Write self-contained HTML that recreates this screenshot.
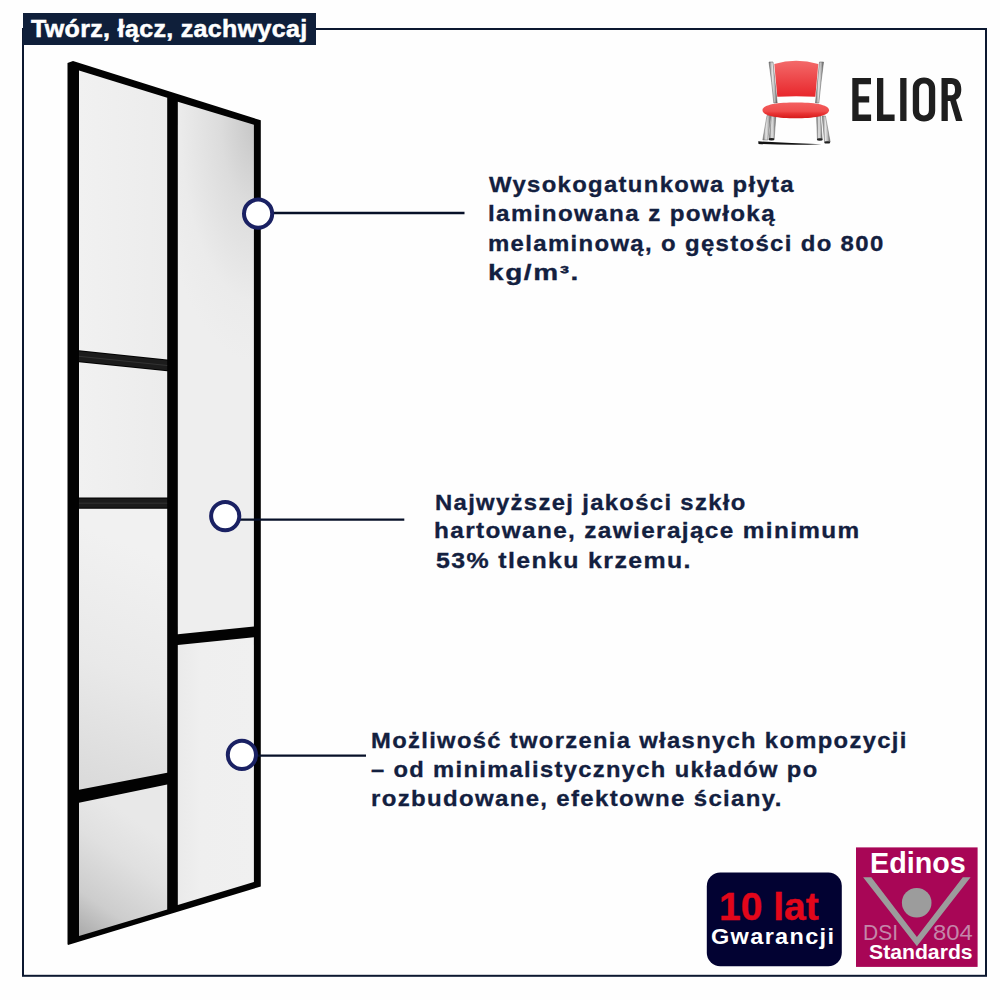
<!DOCTYPE html>
<html><head><meta charset="utf-8">
<style>
html,body{margin:0;padding:0;background:#fefefe;}
body{width:1000px;height:1000px;position:relative;overflow:hidden;font-family:"Liberation Sans",sans-serif;}
svg{position:absolute;left:0;top:0;}
.t{position:absolute;white-space:pre;font-weight:bold;color:#13203f;font-size:21.5px;line-height:21.5px;letter-spacing:1.2px;transform-origin:0 0;-webkit-text-stroke:0.3px #13203f;}
.hd{position:absolute;left:22.8px;top:13.2px;width:293px;height:31.8px;background:#0f1f3a;}
.ht{position:absolute;white-space:pre;font-weight:bold;color:#fff;font-size:23px;line-height:23px;letter-spacing:0.3px;transform-origin:0 0;-webkit-text-stroke:0.5px #fff;}
.b{position:absolute;white-space:pre;font-weight:bold;transform-origin:0 0;}
</style></head>
<body>
<svg width="1000" height="1000" viewBox="0 0 1000 1000">
  <defs>
    <radialGradient id="gA" gradientUnits="userSpaceOnUse" cx="256" cy="122" r="240" gradientTransform="translate(256,122) scale(0.42,1) translate(-256,-122)">
      <stop offset="0" stop-color="#c6c6c6"/><stop offset="0.35" stop-color="#dcdcdc"/><stop offset="0.75" stop-color="#ebebeb"/><stop offset="1" stop-color="#eeeeee"/>
    </radialGradient>
    <linearGradient id="gB" gradientUnits="userSpaceOnUse" x1="78" y1="936" x2="150" y2="830">
      <stop offset="0" stop-color="#a9a9a9"/><stop offset="0.3" stop-color="#cdcdcd"/><stop offset="0.7" stop-color="#e0e0e0"/><stop offset="1" stop-color="#e8e8e8"/>
    </linearGradient>
    <linearGradient id="gC" x1="0" y1="0" x2="1" y2="0">
      <stop offset="0" stop-color="#f1f1f1"/><stop offset="1" stop-color="#ececec"/>
    </linearGradient>
    <linearGradient id="gD" gradientUnits="userSpaceOnUse" x1="80" y1="785" x2="167" y2="560">
      <stop offset="0" stop-color="#dadada"/><stop offset="0.5" stop-color="#e9e9e9"/><stop offset="1" stop-color="#f1f1f1"/>
    </linearGradient>
    <linearGradient id="gE" x1="0" y1="0" x2="1" y2="0">
      <stop offset="0" stop-color="#eaeaea"/><stop offset="0.3" stop-color="#efefef"/><stop offset="1" stop-color="#f0f0f0"/>
    </linearGradient>
    <linearGradient id="red1" x1="0" y1="0" x2="0" y2="1">
      <stop offset="0" stop-color="#f36a6a"/><stop offset="1" stop-color="#e8262b"/>
    </linearGradient>
    <linearGradient id="red2" x1="0" y1="0" x2="0" y2="1">
      <stop offset="0" stop-color="#f36060"/><stop offset="0.55" stop-color="#f04c4c"/><stop offset="0.7" stop-color="#e83434"/><stop offset="1" stop-color="#d51a1a"/>
    </linearGradient>
    <linearGradient id="steel" x1="0" y1="0" x2="1" y2="0">
      <stop offset="0" stop-color="#6e6e6e"/><stop offset="0.4" stop-color="#e6e6e6"/><stop offset="0.7" stop-color="#b8b8b8"/><stop offset="1" stop-color="#5a5a5a"/>
    </linearGradient>
  </defs>
  <!-- frame border -->
  <rect x="23" y="29" width="963" height="946.8" fill="none" stroke="#0c1830" stroke-width="2"/>
  <!-- door outer -->
  <polygon points="67.5,63 73,61 260.8,120.3 260.8,886.5 68,945 67.5,944" fill="#020202"/>
  <!-- panes -->
  <polygon points="79,70.5 167.2,97.8 167.2,359.6 79,350.3" fill="url(#gC)"/>
  <polygon points="79,362.2 167.2,371.3 167.2,497.6 79,497.6" fill="url(#gC)"/>
  <polygon points="79,508.7 167.2,508.7 167.2,772.8 79,789.7" fill="url(#gD)"/>
  <polygon points="79,802.7 167.2,784.5 167.2,909.5 79,936" fill="url(#gB)"/>
  <polygon points="177.8,101.7 253.9,124.8 253.9,626.4 177.8,634.2" fill="url(#gA)"/>
  <polygon points="177.8,645 253.9,637.2 253.9,882 177.8,905" fill="url(#gE)"/>
  <polygon points="79,351.3 167.2,360.6 167.2,370.3 79,361.2" fill="#1c1c1c"/>
  <line x1="79" y1="356.3" x2="167.2" y2="365.5" stroke="#383838" stroke-width="0.8"/>
  <rect x="79" y="498.6" width="88.2" height="9.1" fill="#1c1c1c"/>
  <line x1="79" y1="503.2" x2="167.2" y2="503.2" stroke="#383838" stroke-width="0.8"/>
  <!-- pointer lines -->
  <g stroke="#071028" stroke-width="2.3">
    <line x1="272" y1="213" x2="464.5" y2="213"/>
    <line x1="239" y1="519.7" x2="404.3" y2="519.7"/>
    <line x1="256" y1="755.6" x2="366" y2="755.6"/>
  </g>
  <g fill="#fff" stroke="#1a2163" stroke-width="4">
    <circle cx="258.1" cy="213.7" r="14.1"/>
    <circle cx="225.2" cy="516.1" r="14.1"/>
    <circle cx="241.9" cy="754.9" r="14.1"/>
  </g>
  <!-- chair -->
  <g>
    <path d="M769,62 Q772,82 773.8,103 L777.2,103 Q775,82 773,62 Z" fill="url(#steel)" stroke="#555" stroke-width="0.5"/>
    <path d="M819.5,62 Q817.5,82 815.5,103 L818.8,103 Q820.8,82 823.5,62 Z" fill="url(#steel)" stroke="#555" stroke-width="0.5"/>
    <path d="M774.3,64 Q796,57.5 818.3,64 L815.3,96.8 Q796,95.8 777.3,96.8 Z" fill="url(#red1)"/>
    <path d="M767,115.5 L770.8,115.5 L767.8,140 L762.8,140 Z" fill="url(#steel)" stroke="#666" stroke-width="0.5"/>
    <path d="M771.4,116 L775.8,116 L774.2,139 L769.2,139 Z" fill="url(#steel)" stroke="#666" stroke-width="0.5"/>
    <path d="M816.6,116 L820.6,116 L822.2,139 L817.4,139 Z" fill="url(#steel)" stroke="#666" stroke-width="0.5"/>
    <path d="M822.2,116 L825.4,116 L830.2,142 L824.6,142 Z" fill="url(#steel)" stroke="#666" stroke-width="0.5"/>
    <ellipse cx="771.5" cy="139.3" rx="3" ry="1.2" fill="#222"/>
    <ellipse cx="819.8" cy="139.5" rx="3" ry="1.2" fill="#222"/>
    <ellipse cx="827.2" cy="142.4" rx="3" ry="1.2" fill="#222"/>
    <path d="M762.5,110.2 C762.5,104.2 779,102.5 795.7,102.5 C812.5,102.5 829,104.2 829,110.2 C829,116.2 812.5,118.3 795.7,118.3 C779,118.3 762.5,116.2 762.5,110.2 Z" fill="url(#red2)"/>
    <path d="M758.2,141.3 Q790,143.2 821.5,144.3 Q790,145.6 758.5,143.9 Z" fill="#111"/>
  </g>
  <!-- ELIOR -->
  <g fill="#1e1e1e">
    <path d="M852.3,78 H871 V84.3 H858.6 V96.3 H869.2 V102.6 H858.6 V114.6 H871.1 V121 H852.3 Z"/>
    <path d="M877,78 H883.3 V114.6 H894.6 V121 H877 Z"/>
    <rect x="900.2" y="78" width="6.3" height="43"/>
    <path fill-rule="evenodd" d="M924,77.5 C930.5,77.5 935.2,81.5 935.2,88.5 V110.5 C935.2,117.5 930.5,121.5 924,121.5 C917.5,121.5 912.8,117.5 912.8,110.5 V88.5 C912.8,81.5 917.5,77.5 924,77.5 Z M924,83.6 C920.8,83.6 919.1,85.6 919.1,88.8 V110.2 C919.1,113.4 920.8,115.4 924,115.4 C927.2,115.4 928.9,113.4 928.9,110.2 V88.8 C928.9,85.6 927.2,83.6 924,83.6 Z"/>
    <path fill-rule="evenodd" d="M941.5,78 H951 C957.5,78 961.3,81.8 961.3,89.3 C961.3,95 959.3,98.3 956,99.7 L962.5,121 H956 L950.2,101 H947.8 V121 H941.5 Z M947.8,84 V95.3 H950.6 C953.8,95.3 955,93.8 955,89.6 C955,85.5 953.8,84 950.6,84 Z"/>
  </g>
  <!-- 10 lat badge -->
  <rect x="706.8" y="872.5" width="135" height="93.8" rx="13.5" fill="#020232"/>
  <!-- Edinos badge -->
  <rect x="856" y="847.4" width="121.6" height="119.5" fill="#a80656"/>
  <polygon points="863.1,877.3 871.3,877.3 916.9,936.9 962.8,877.3 970.6,877.3 916.9,946.3" fill="#9c9c9c"/>
  <circle cx="916.7" cy="902.8" r="14.8" fill="#9c9c9c"/>
</svg>

<div class="hd"></div>
<div class="ht" style="left:31.00px;top:17.53px;transform:scaleX(1.0880);">Twórz, łącz, zachwycaj</div>
<div class="t" style="left:489.01px;top:175.20px;transform:scaleX(1.1098);">Wysokogatunkowa płyta</div>
<div class="t" style="left:487.97px;top:204.40px;transform:scaleX(1.1260);">laminowana z powłoką</div>
<div class="t" style="left:488.37px;top:233.50px;transform:scaleX(1.1133);">melaminową, o gęstości do 800</div>
<div class="t" style="left:487.62px;top:262.70px;transform:scaleX(1.3037);">kg/m³.</div>
<div class="t" style="left:435.39px;top:492.50px;transform:scaleX(1.1092);">Najwyższej jakości szkło</div>
<div class="t" style="left:434.37px;top:521.20px;transform:scaleX(1.1329);">hartowane, zawierające minimum</div>
<div class="t" style="left:436.27px;top:550.50px;transform:scaleX(1.1569);">53% tlenku krzemu.</div>
<div class="t" style="left:370.99px;top:731.40px;transform:scaleX(1.1058);">Możliwość tworzenia własnych kompozycji</div>
<div class="t" style="left:371.04px;top:760.20px;transform:scaleX(1.1044);">– od minimalistycznych układów po</div>
<div class="t" style="left:370.94px;top:789.30px;transform:scaleX(1.1159);">rozbudowane, efektowne ściany.</div>
<div class="b" style="left:719.10px;top:887.90px;transform:scaleX(1.0261);color:#e2061a;font-size:38px;line-height:38px;-webkit-text-stroke:0.4px #e2061a;">10 lat</div>
<div class="b" style="left:711.40px;top:925.80px;transform:scaleX(1.0430);color:#fff;font-size:22.5px;line-height:22.5px;letter-spacing:1.3px;">Gwarancji</div>
<div class="b" style="left:869.65px;top:847.90px;transform:scaleX(0.9570);color:#fff;font-size:30px;line-height:30px;">Edinos</div>
<div class="b" style="left:869.07px;top:940.50px;transform:scaleX(1.0090);color:#fff;font-size:21px;line-height:21px;">Standards</div>
<div class="b" style="left:862.82px;top:921.80px;transform:scaleX(0.9329);color:#c486aa;font-size:22.5px;line-height:22.5px;font-weight:normal;">DSI</div>
<div class="b" style="left:933.49px;top:921.80px;transform:scaleX(1.0576);color:#c486aa;font-size:22.5px;line-height:22.5px;font-weight:normal;">804</div>
</body></html>
